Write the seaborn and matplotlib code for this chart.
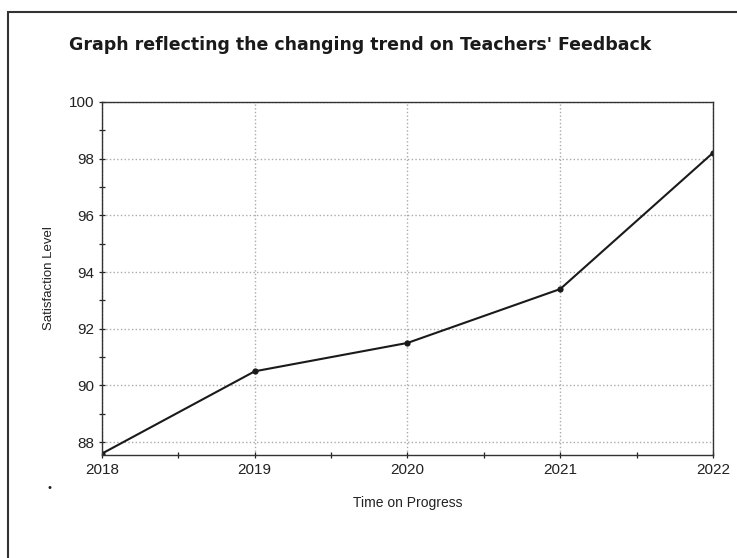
import pandas as pd
import seaborn as sns
import matplotlib.pyplot as plt
from matplotlib.patches import Rectangle
from matplotlib.ticker import MultipleLocator

sns.set_theme(style='white')
plt.rcParams['font.family'] = ['Liberation Sans', 'DejaVu Sans']

# values
years = [2018, 2019, 2020, 2021, 2022]
satisfaction = [87.6, 90.5, 91.5, 93.4, 98.2]
y_ticks = [88, 90, 92, 94, 96, 98, 100]

df = pd.DataFrame({'year': years, 'level': satisfaction})

fig = plt.figure(figsize=(7.37, 5.58), dpi=100)
ax = fig.add_axes([0.1384, 0.1846, 0.829, 0.633])

sns.lineplot(data=df, x='year', y='level', ax=ax, color='#1a1a1a',
             linewidth=1.5, marker='o', markersize=4.5, markeredgewidth=0)

ax.set_xlim(2018, 2022)
ax.set_ylim(87.55, 100)
ax.set_xticks(years)
ax.set_xticklabels([str(y) for y in years])
ax.set_yticks(y_ticks)
ax.xaxis.set_minor_locator(MultipleLocator(0.5))
ax.yaxis.set_minor_locator(MultipleLocator(1))
ax.tick_params(which='both', direction='inout', color='#222222', left=True, bottom=True)
ax.tick_params(which='major', length=5, width=0.9, labelsize=11, colors='#222222', pad=3)
ax.tick_params(which='minor', length=4, width=0.9)
ax.grid(True, which='major', linestyle=':', color='#aaaaaa', linewidth=1)
for side in ax.spines.values():
    side.set_color('#333333')
    side.set_linewidth(1)

ax.set_xlabel('Time on Progress', fontsize=10, color='#222222', labelpad=14)
ax.set_ylabel('Satisfaction Level', fontsize=9.5, color='#222222', labelpad=10)

fig.text(0.489, 0.919, "Graph reflecting the changing trend on Teachers' Feedback",
         ha='center', va='center', fontsize=12.5, fontweight='bold', color='#1a1a1a',
         family=['Liberation Sans Narrow', 'DejaVu Sans'])

# scanned document frame
fig.patches.append(Rectangle((8 / 737, -0.1), 1.2, 1.078, transform=fig.transFigure,
                             fill=False, edgecolor='#333333', linewidth=1.5))
fig.text(50 / 737, 1 - 488 / 558, '\u2022', fontsize=8, color='#222222', ha='center', va='center')

fig.savefig('out.png', dpi=100)
